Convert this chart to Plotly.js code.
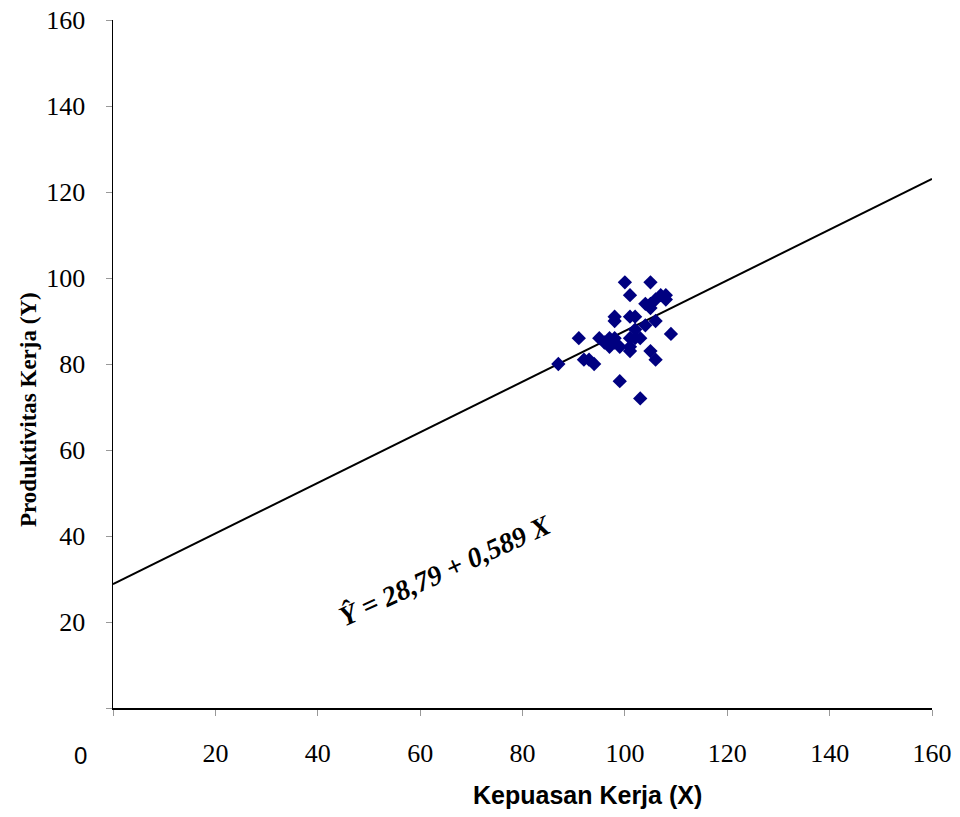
<!DOCTYPE html>
<html>
<head>
<meta charset="utf-8">
<script src="https://cdn.plot.ly/plotly-3.0.1.min.js"></script>
<style>html,body{margin:0;padding:0;background:#fff;}#chart{width:960px;height:817px;}</style>
</head>
<body>
<div id="chart"></div>
<script>
// Observed data: Kepuasan Kerja (X) vs Produktivitas Kerja (Y)
var kepuasanX = [87, 91, 92, 93, 94, 95, 96, 97, 97, 98, 98, 98, 98, 99, 99, 100, 101, 101, 101, 101, 101, 102, 102, 102, 103, 103, 104, 104, 105, 105, 105, 105, 106, 106, 106, 107, 108, 108, 109];
var produktivitasY = [80, 86, 81, 81, 80, 86, 85, 84, 86, 85, 86, 91, 90, 84, 76, 99, 96, 91, 86, 84, 83, 91, 88, 86, 86, 72, 94, 89, 99, 93, 94, 83, 95, 90, 81, 96, 95, 96, 87];

// Regression line read from the equation
var intercept = 28.79;
var slope = 0.589;
var lineX = [0, 160];
var lineY = lineX.map(function (x) { return intercept + slope * x; });

// Tick labels
var tickVals = [0, 20, 40, 60, 80, 100, 120, 140, 160];
var tickText = ["", "20", "40", "60", "80", "100", "120", "140", "160"];

var SERIF = "Liberation Serif";
var SANS = "Liberation Sans";

var traces = [
  {
    x: lineX, y: lineY, type: "scatter", mode: "lines",
    line: {color: "#000000", width: 2}, hoverinfo: "skip", showlegend: false
  },
  {
    x: kepuasanX, y: produktivitasY, type: "scatter", mode: "markers",
    marker: {symbol: "diamond", size: 11, color: "#000080", line: {width: 0}},
    showlegend: false
  }
];

var layout = {
  width: 960, height: 817,
  margin: {l: 113, r: 28, t: 20, b: 109},
  paper_bgcolor: "#ffffff", plot_bgcolor: "#ffffff",
  showlegend: false,
  font: {family: SERIF},
  xaxis: {
    range: [0, 160], tickvals: tickVals, ticktext: tickText,
    showgrid: false, zeroline: false, showline: true, linecolor: "#000000", linewidth: 1.5,
    ticks: "outside", ticklen: 6, tickcolor: "#999999", tickwidth: 1,
    ticklabelstandoff: 15,
    tickfont: {family: SERIF, size: 26, color: "#000000"}
  },
  yaxis: {
    range: [0, 160], tickvals: tickVals, ticktext: tickText,
    showgrid: false, zeroline: false, showline: true, linecolor: "#000000", linewidth: 1.5,
    ticks: "outside", ticklen: 6, tickcolor: "#999999", tickwidth: 1,
    ticklabelstandoff: 15,
    tickfont: {family: SERIF, size: 26, color: "#000000"}
  },
  annotations: [
    {
      text: "<b>Kepuasan Kerja (X)</b>", xref: "paper", yref: "paper",
      x: (587 - 113) / 819, y: -(795 - 708) / 688, xanchor: "center", yanchor: "middle",
      showarrow: false, font: {family: SANS, size: 25, color: "#000000"}
    },
    {
      text: "<b>Produktivitas Kerja (Y)</b>", xref: "paper", yref: "paper",
      x: (28 - 113) / 819, y: (708 - 410) / 688, xanchor: "center", yanchor: "middle",
      textangle: -90, showarrow: false,
      font: {family: SERIF, size: 23, color: "#000000"}
    },
    {
      text: "0", xref: "paper", yref: "paper",
      x: (80 - 113) / 819, y: -(756 - 708) / 688, xanchor: "center", yanchor: "middle",
      showarrow: false, font: {family: SANS, size: 24, color: "#000000"}
    },
    {
      text: "<b><i>Ŷ = 28,79 + 0,589 X</i></b>", xref: "paper", yref: "paper",
      x: (445 - 113) / 819, y: (708 - 570) / 688, xanchor: "center", yanchor: "middle",
      textangle: -24.5, showarrow: false,
      font: {family: SERIF, size: 28, color: "#000000"}
    }
  ]
};

Plotly.newPlot("chart", traces, layout, {displayModeBar: false, staticPlot: true});
</script>
</body>
</html>
